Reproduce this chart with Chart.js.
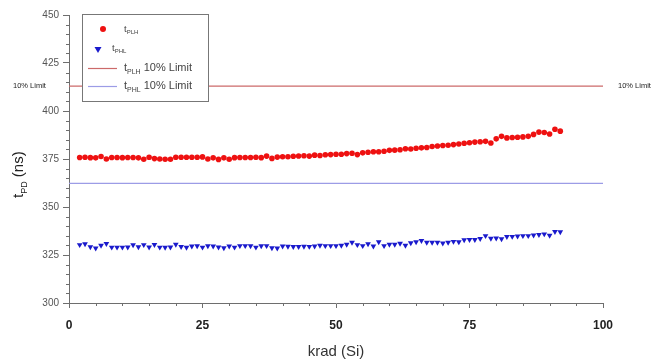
<!DOCTYPE html>
<html>
<head>
<meta charset="utf-8">
<script src="https://cdn.jsdelivr.net/npm/chart.js@4.4.1/dist/chart.umd.min.js"></script>
<style>
    body { margin: 0; background: #fff; }
    #wrap { position: relative; width: 669px; height: 363px; }
</style>
</head>
<body>
<div id="wrap"><canvas id="tpdChart" width="669" height="363"></canvas></div>
<script>
// dose points, krad (Si)
const krad = [];
for (let k = 2; k <= 92; k++) krad.push(k);

const tplh = [
    375.8, 375.9, 375.7, 375.6, 376.3, 375.0, 375.8, 375.8, 375.7, 375.8,
    375.8, 375.6, 374.9, 375.9, 375.2, 375.0, 374.9, 374.9, 375.9, 375.9,
    375.9, 375.9, 375.9, 376.1, 375.0, 375.6, 374.8, 375.6, 374.9, 375.7,
    375.8, 375.8, 375.8, 375.9, 375.7, 376.5, 375.3, 376.0, 376.2, 376.2,
    376.4, 376.6, 376.7, 376.5, 377.0, 376.8, 377.2, 377.3, 377.5, 377.5,
    377.8, 378.0, 377.3, 378.2, 378.5, 378.8, 378.8, 379.0, 379.5, 379.6,
    379.8, 380.3, 380.2, 380.6, 380.8, 381.0, 381.5, 381.8, 382.0, 382.2,
    382.5, 382.8, 383.2, 383.5, 383.8, 384.0, 384.2, 383.3, 385.5, 386.8,
    386.0, 386.2, 386.3, 386.5, 386.8, 387.8, 389.0, 388.8, 388.0, 390.5, 389.5
];

const tphl = [
    330.3, 330.8, 329.2, 328.6, 330.0, 330.9, 329.0, 329.0, 329.0, 329.1,
    330.2, 329.2, 330.3, 329.1, 330.4, 329.0, 328.9, 329.1, 330.5, 329.3,
    328.9, 329.6, 329.7, 329.0, 329.7, 329.6, 329.1, 328.7, 329.6, 329.0,
    329.8, 329.8, 329.7, 329.0, 329.7, 329.8, 328.7, 328.6, 329.6, 329.5,
    329.3, 329.3, 329.5, 329.4, 329.6, 330.0, 329.8, 329.8, 329.8, 330.0,
    330.5, 331.6, 330.3, 329.8, 330.8, 329.6, 331.8, 329.8, 330.5, 330.5,
    331.0, 330.0, 331.3, 331.8, 332.5, 331.5, 331.6, 331.5, 331.2, 331.6,
    332.0, 331.8, 332.8, 333.0, 333.0, 333.5, 335.0, 333.6, 333.8, 333.4,
    334.5, 334.6, 334.8, 335.0, 335.0, 335.3, 335.6, 335.9, 335.2, 337.2, 337.0
];

const tplhLimit = 413;
const tphlLimit = 362.3;
const limitSpan = [0, 100];

const xTicks = [0, 25, 50, 75, 100];
const yTicks = [300, 325, 350, 375, 400, 425, 450];

const RED = '#ee1111';
const BLUE = '#1a1acc';
const RED_LIMIT = '#cc6a6a';
const BLUE_LIMIT = '#9c9ce6';
const AXIS = '#6e6e6e';
const FONT = "'Liberation Sans', Arial, sans-serif";

// text with a subscript part, drawn left-aligned
function subText(ctx, x, y, main, sub, rest, size) {
    ctx.font = size + 'px ' + FONT;
    ctx.fillText(main, x, y);
    x += ctx.measureText(main).width;
    ctx.font = Math.round(size * 0.62) + 'px ' + FONT;
    ctx.fillText(sub, x, y + size * 0.25);
    x += ctx.measureText(sub).width;
    if (rest) {
        ctx.font = size + 'px ' + FONT;
        ctx.fillText(rest, x, y);
    }
}

const extrasPlugin = {
    id: 'extras',
    afterDraw(chart) {
        const ctx = chart.ctx;
        const xs = chart.scales.x;
        const ys = chart.scales.y;
        const area = chart.chartArea;
        ctx.save();

        // minor ticks
        ctx.strokeStyle = AXIS;
        ctx.lineWidth = 1;
        ctx.beginPath();
        for (let v = 5; v < 100; v += 5) {
            if (v % 25 === 0) continue;
            const px = Math.round(xs.getPixelForValue(v)) + 0.5;
            ctx.moveTo(px, area.bottom);
            ctx.lineTo(px, area.bottom + 3);
        }
        for (let v = 305; v < 450; v += 5) {
            if (v % 25 === 0) continue;
            const py = Math.round(ys.getPixelForValue(v)) + 0.5;
            ctx.moveTo(area.left - 3, py);
            ctx.lineTo(area.left, py);
        }
        ctx.stroke();

        // "10% Limit" markers either side of the red limit line
        const ly = ys.getPixelForValue(tplhLimit);
        ctx.fillStyle = '#222';
        ctx.font = '7.5px ' + FONT;
        ctx.textBaseline = 'middle';
        ctx.textAlign = 'left';
        ctx.fillText('10% Limit', 13, ly);
        ctx.fillText('10% Limit', 618, ly);

        // legend box
        ctx.fillStyle = '#fff';
        ctx.fillRect(82, 14, 126, 87);
        ctx.strokeStyle = '#777';
        ctx.strokeRect(82.5, 14.5, 126, 87);

        ctx.fillStyle = RED;
        ctx.beginPath();
        ctx.arc(103, 29, 3, 0, Math.PI * 2);
        ctx.fill();
        ctx.fillStyle = BLUE;
        ctx.beginPath();
        ctx.moveTo(94.5, 47);
        ctx.lineTo(101.5, 47);
        ctx.lineTo(98, 53);
        ctx.closePath();
        ctx.fill();

        ctx.lineWidth = 1.2;
        ctx.strokeStyle = RED_LIMIT;
        ctx.beginPath();
        ctx.moveTo(88, 68.5);
        ctx.lineTo(117, 68.5);
        ctx.stroke();
        ctx.strokeStyle = BLUE_LIMIT;
        ctx.beginPath();
        ctx.moveTo(88, 86.5);
        ctx.lineTo(117, 86.5);
        ctx.stroke();

        ctx.fillStyle = '#444';
        ctx.textBaseline = 'alphabetic';
        subText(ctx, 124, 32, 't', 'PLH', '', 9.5);
        subText(ctx, 112, 51, 't', 'PHL', '', 9.5);
        subText(ctx, 124, 71, 't', 'PLH', ' 10% Limit', 11);
        subText(ctx, 124, 89, 't', 'PHL', ' 10% Limit', 11);

        // axis titles
        ctx.fillStyle = '#333';
        ctx.textAlign = 'center';
        ctx.textBaseline = 'middle';
        ctx.font = '15px ' + FONT;
        ctx.fillText('krad (Si)', (area.left + area.right) / 2, 352);

        ctx.translate(23, 198);
        ctx.rotate(-Math.PI / 2);
        ctx.textAlign = 'left';
        ctx.textBaseline = 'alphabetic';
        ctx.fillStyle = '#222';
        subText(ctx, 0, 0, 't', 'PD', ' (ns)', 15);

        ctx.restore();
    }
};

function lineAt(value) {
    return limitSpan.map(x => ({ x: x, y: value }));
}

new Chart(document.getElementById('tpdChart'), {
    type: 'scatter',
    data: {
        datasets: [
            {
                label: 'tPLH 10% Limit',
                type: 'line',
                data: lineAt(tplhLimit),
                borderColor: RED_LIMIT,
                borderWidth: 1.2,
                pointRadius: 0
            },
            {
                label: 'tPHL 10% Limit',
                type: 'line',
                data: lineAt(tphlLimit),
                borderColor: BLUE_LIMIT,
                borderWidth: 1.2,
                pointRadius: 0
            },
            {
                label: 'tPLH',
                data: krad.map((x, i) => ({ x: x, y: tplh[i] })),
                pointStyle: 'circle',
                pointRadius: 2.8,
                backgroundColor: RED,
                borderColor: RED,
                borderWidth: 0
            },
            {
                label: 'tPHL',
                data: krad.map((x, i) => ({ x: x, y: tphl[i] })),
                pointStyle: 'triangle',
                rotation: 180,
                pointRadius: 3.3,
                backgroundColor: BLUE,
                borderColor: BLUE,
                borderWidth: 0
            }
        ]
    },
    options: {
        responsive: false,
        animation: false,
        layout: { padding: { left: 0, right: 66, top: 15, bottom: 0 } },
        scales: {
            x: {
                type: 'linear',
                min: 0,
                max: 100,
                afterBuildTicks: scale => { scale.ticks = xTicks.map(v => ({ value: v })); },
                afterFit: scale => { scale.height = 60; },
                grid: { drawOnChartArea: false, tickLength: 5, color: AXIS },
                border: { color: AXIS },
                ticks: {
                    color: '#222',
                    padding: 10,
                    maxRotation: 0,
                    font: { family: FONT, size: 12, weight: 'bold' }
                }
            },
            y: {
                min: 300,
                max: 450,
                afterBuildTicks: scale => { scale.ticks = yTicks.map(v => ({ value: v })); },
                afterFit: scale => { scale.width = 69; },
                grid: { drawOnChartArea: false, tickLength: 6, color: AXIS },
                border: { color: AXIS },
                ticks: {
                    color: '#555',
                    padding: 4,
                    font: { family: FONT, size: 10 }
                }
            }
        },
        plugins: {
            legend: { display: false },
            tooltip: { enabled: false }
        }
    },
    plugins: [extrasPlugin]
});
</script>
</body>
</html>
